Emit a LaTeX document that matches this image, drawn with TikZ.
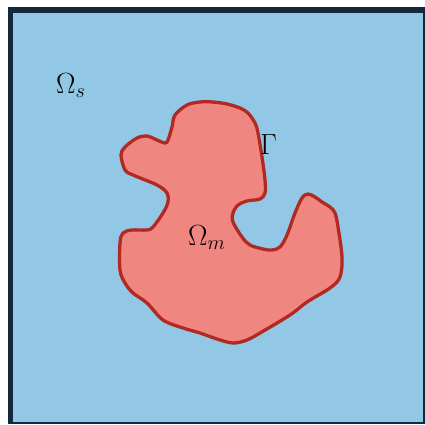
\documentclass[tikz,border=0pt]{standalone}
\usepackage{amsmath,amssymb}
\usepackage{xcolor}
\usepackage{tikz}
\usetikzlibrary{positioning}
\definecolor{solidblue}{RGB}{147,199,230}
\definecolor{frameblue}{RGB}{19,40,58}
\definecolor{matrixred}{RGB}{240,134,128}
\definecolor{edgered}{RGB}{178,40,34}

\begin{document}
\begin{tikzpicture}[x=0.03cm,y=-0.03cm,font=\fontsize{25}{30}\selectfont,
  lbl/.style={inner sep=0pt,anchor=base west}]
\useasboundingbox (0,0) rectangle (425,424);
\fill[white] (0,0) rectangle (425,424);
\fill[frameblue] (8,7) rectangle (425,424);
\fill[solidblue] (13,13) rectangle (422.7,422.3);
\draw[edgered,fill=matrixred,line width=2.8pt,smooth cycle,tension=0.55] plot coordinates {
  (200,102) (187,105) (175,115) (172,127) (168,140) (165,143)
  (157,140) (147,136) (137,138) (125,147) (121,155) (125,170)
  (133,175) (157,185) (167,193) (168,202) (163,213) (153,227)
  (147,230) (132,230) (123,233) (120,243) (120,270) (125,283)
  (133,293) (147,303) (163,320) (183,328) (200,333) (217,339)
  (233,343) (247,340) (260,333) (290,315) (307,302)
  (330,288) (340,277) (342,257) (338,227) (335,213) (330,207)
  (322,202) (315,197) (308,194) (302,198) (295,213) (287,235)
  (280,247) (272,250) (263,249) (250,245) (242,237) (233,222)
  (233,213) (238,205) (247,201) (260,199) (265,193) (265,180)
  (262,157) (258,133) (255,123) (248,113) (240,108) (227,104)
  (213,102)};
\node[lbl] (omegas) at (56,93) {$\Omega_s$};
\node[lbl] (gamma) at (260,154) {$\Gamma$};
\node[lbl] (omegam) at (188,245) {$\Omega_m$};
\end{tikzpicture}
\end{document}
